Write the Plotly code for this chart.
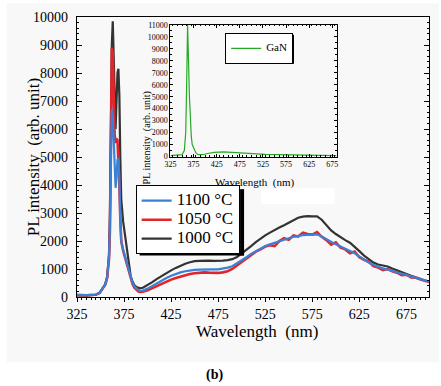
import plotly.graph_objects as go

# ---------------- data ----------------
wl = [325, 335, 345, 349, 352, 355, 357, 359, 360, 361, 362, 363, 364, 365, 366, 367,
      368, 369, 370, 371, 372, 374, 376, 378, 380, 382, 384, 386, 388, 390, 392,
      395, 400, 405, 410, 415, 420, 425, 430, 435, 440, 445, 450, 455, 460, 465,
      470, 475, 480, 485, 490, 495, 500, 505, 510, 515, 520, 525, 530, 535, 540,
      545, 550, 555, 560, 565, 570, 575, 580, 585, 590, 595, 600, 605, 610, 615,
      620, 625, 630, 635, 640, 645, 650, 655, 660, 665, 670, 675, 680, 685, 690,
      695, 700]

pl_1100 = [80, 70, 90, 150, 300, 450, 700, 1400, 2500, 5000, 6700, 6500, 5500, 4300, 3900, 4300,
           4900, 4950, 4300, 2800, 2000, 1700, 1450, 1250, 1050, 750, 500, 380, 300, 250, 220,
           230, 300, 400, 500, 600, 680, 760, 830, 880, 920, 950, 970, 980, 990, 990,
           985, 985, 1010, 1050, 1100, 1200, 1300, 1420, 1540, 1640, 1730, 1820, 1880, 1940, 2000,
           2060, 2100, 2150, 2190, 2210, 2215, 2225, 2240, 2160, 2060, 1950, 1880, 1800, 1720, 1660,
           1560, 1450, 1330, 1230, 1150, 1080, 1020, 980, 930, 880, 830, 780, 730, 680, 630,
           580, 540]

pl_1050 = [70, 60, 80, 140, 290, 440, 680, 1350, 2400, 5000, 8900, 8700, 7000, 5800, 5500, 5650,
           5600, 5000, 4000, 2800, 2000, 1650, 1400, 1200, 1000, 700, 460, 330, 250, 200, 180,
           190, 240, 320, 400, 480, 550, 620, 680, 730, 780, 820, 850, 870, 880, 870,
           860, 860, 880, 920, 1000, 1120, 1250, 1390, 1500, 1620, 1700, 1800, 1850, 1820, 2000,
           2100, 2040, 2200, 2160, 2300, 2250, 2230, 2320, 2150, 2030, 1870, 1950, 1760, 1700, 1560,
           1620, 1420, 1330, 1260, 1100, 1050, 960, 1000, 920, 870, 780, 800, 700, 690, 620,
           570, 530]

pl_1000 = [60, 50, 80, 150, 300, 450, 700, 1500, 3000, 6500, 9000, 9850, 8500, 6500, 6000, 7000,
           8000, 8150, 7200, 5000, 3500, 2700, 2200, 1600, 1100, 750, 550, 420, 360, 320, 310,
           330, 420, 530, 650, 760, 860, 950, 1040, 1120, 1190, 1240, 1280, 1290, 1300, 1300,
           1290, 1290, 1300, 1320, 1350, 1430, 1550, 1680, 1820, 1960, 2090, 2200, 2300, 2400, 2480,
           2560, 2660, 2750, 2830, 2870, 2890, 2880, 2880, 2760, 2580, 2380, 2250, 2130, 2030, 1940,
           1800, 1640, 1480, 1340, 1230, 1160, 1120, 1090, 1020, 950, 880, 820, 760, 700, 640,
           590, 550]

gan_wl = [325, 345, 350, 355, 358, 360, 361, 362, 363, 364, 365, 366, 367, 368, 370, 372,
          375, 380, 385, 395, 405, 420, 440, 460, 480, 500, 530, 560, 600, 640, 684]
gan_pl = [80, 100, 150, 500, 2000, 6000, 10000, 11000, 9500, 7000, 5200, 5000, 4200, 3000, 1700, 1000,
          700, 300, 150, 150, 250, 350, 380, 330, 270, 220, 180, 160, 130, 110, 80]

series_names = ["1100 °C", "1050 °C", "1000 °C"]
series_colors = ["#3a80d6", "#e0262b", "#333333"]
x_ticks = [325, 375, 425, 475, 525, 575, 625, 675]

# ---------------- figure ----------------
FONT = "Liberation Serif, Times New Roman, serif"
fig = go.Figure()

for name, ys, col, w in [(series_names[2], pl_1000, series_colors[2], 2.2),
                         (series_names[1], pl_1050, series_colors[1], 2.6),
                         (series_names[0], pl_1100, series_colors[0], 2.2)]:
    fig.add_trace(go.Scatter(x=wl, y=ys, mode="lines",
                             name="<span style='font-size:17px'>%s</span>" % name,
                             line=dict(color=col, width=w)))
fig.add_trace(go.Scatter(x=gan_wl, y=gan_pl, mode="lines",
                         name="<span style='font-size:11px'>GaN</span>",
                         line=dict(color="#22aa22", width=1.2),
                         xaxis="x2", yaxis="y2", legend="legend2"))

L, R, T, B = 77, 431, 14, 297
W, H = 441, 386
pw, ph = R - L, B - T


def px(x):
    return (x - L) / pw


def py(y):
    return (B - y) / ph


tf_main = dict(family=FONT, size=14, color="black")
tf_in = dict(family=FONT, size=8, color="black")

fig.update_layout(
    width=W, height=H,
    margin=dict(l=L, r=W - R, t=T, b=H - B),
    paper_bgcolor="white",
    plot_bgcolor="rgba(0,0,0,0)",
    font=dict(family=FONT, color="black", size=14),
    showlegend=True,
    legend=dict(x=px(136), y=py(184), xanchor="left", yanchor="top",
                bgcolor="white", bordercolor="black", borderwidth=1,
                font=dict(family=FONT, size=11, color="black"),
                traceorder="reversed", itemwidth=30, tracegroupgap=0),
    legend2=dict(x=px(226), y=py(30), xanchor="left", yanchor="top",
                 bgcolor="white", bordercolor="black", borderwidth=1,
                 font=dict(family=FONT, size=7, color="black"), itemwidth=30),
    xaxis=dict(range=[325, 699], tickvals=x_ticks, ticks="outside", ticklen=4,
               tickcolor="black", showline=True, linecolor="black", linewidth=1.2,
               mirror=True, showgrid=False, zeroline=False, tickfont=tf_main,
               minor=dict(ticks="outside", ticklen=2, dtick=5, tickcolor="black", showgrid=False)),
    yaxis=dict(range=[0, 10000], dtick=1000, tickformat="d", ticks="inside", ticklen=5,
               tickcolor="black", showline=True, linecolor="black", linewidth=1.2,
               mirror="allticks", showgrid=False, zeroline=False,
               tickfont=tf_main, ticklabelstandoff=5,
               minor=dict(ticks="inside", ticklen=2, dtick=200, tickcolor="black", showgrid=False)),
    xaxis2=dict(domain=[px(171), px(338)], anchor="y2", range=[325, 684],
                tickvals=x_ticks, ticks="inside", ticklen=3, tickcolor="black",
                showline=True, linecolor="black", linewidth=1, mirror="allticks",
                showgrid=False, zeroline=False, tickfont=tf_in,
                minor=dict(ticks="inside", ticklen=1.5, dtick=10, tickcolor="black", showgrid=False)),
    yaxis2=dict(domain=[py(155), py(22)], anchor="x2", range=[0, 11000], dtick=1000,
                tickformat="d", ticks="inside", ticklen=3, tickcolor="black",
                showline=True, linecolor="black", linewidth=1, mirror="allticks",
                showgrid=False, zeroline=False, tickfont=tf_in,
                minor=dict(ticks="inside", ticklen=1.5, dtick=500, tickcolor="black", showgrid=False)),
)


def rect(x0, y0, x1, y1, fill, layer="below"):
    fig.add_shape(type="rect", xref="paper", yref="paper",
                  x0=px(x0), x1=px(x1), y0=py(y1), y1=py(y0),
                  fillcolor=fill, line=dict(width=0), layer=layer)


def seg(x0, y0, x1, y1, w):
    fig.add_shape(type="line", xref="paper", yref="paper",
                  x0=px(x0), x1=px(x1), y0=py(y0), y1=py(y1),
                  line=dict(color="black", width=w), layer="above")


def label(text, x, y, size, anchor="left"):
    fig.add_annotation(xref="paper", yref="paper", showarrow=False, text=text,
                       x=px(x), y=py(y), xanchor=anchor, yanchor="middle",
                       font=dict(family=FONT, size=size, color="black"))


# background panel and white patch
rect(6, 0, 441, 363, "#f8f8f8")
rect(262, 187, 336, 203, "white")
# drop shadows of the two legend boxes (thick lines along bottom and right edges)
seg(140, 253, 245, 253, 4)
seg(243, 188, 243, 255, 4)
seg(228, 60, 295, 60, 2.5)
seg(294, 32, 294, 61, 2.5)

# axis titles
fig.add_annotation(xref="paper", yref="paper", showarrow=False,
                   text="PL intensity\u00a0 (arb. unit)", x=px(22), y=py(155), textangle=-90,
                   font=dict(family=FONT, size=17))
label("Wavelength\u00a0 (nm)", 258, 332, 17, "center")
fig.add_annotation(xref="paper", yref="paper", showarrow=False,
                   text="PL intensity\u00a0 (arb. unit)", x=px(139), y=py(87), textangle=-90,
                   font=dict(family=FONT, size=10))
label("Wavelength\u00a0 (nm)", 256, 181, 11, "center")
label("<b>(b)</b>", 215, 376, 14, "center")

fig.write_html("out.html", config={"displayModeBar": False},
               post_script="document.body.style.margin='0';")
